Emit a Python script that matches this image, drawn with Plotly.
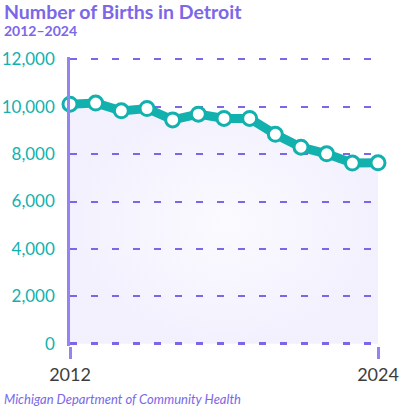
import plotly.graph_objects as go

years = list(range(2012, 2025))
births = [10100, 10150, 9820, 9920, 9440, 9680, 9500, 9500, 8830, 8290, 8010, 7620, 7630]
y_ticks = [0, 2000, 4000, 6000, 8000, 10000, 12000]
x_ticks = [2012, 2024]

TEAL = "#12b1ae"
PURPLE = "#7b67e8"
AXIS_PURPLE = "#9484f2"
Y_RANGE = [-90, 12090]

fig = go.Figure()
fig.add_trace(go.Scatter(
    x=years, y=births, mode="lines+markers",
    line=dict(color=TEAL, width=9),
    marker=dict(size=14, color="white", line=dict(color=TEAL, width=3)),
    fill="tozeroy",
    fillgradient=dict(type="radial",
                      colorscale=[[0, "rgba(120,95,240,0.03)"], [1, "rgba(120,95,240,0.09)"]]),
    cliponaxis=False, hoverinfo="skip", showlegend=False,
))
# invisible trace to activate secondary axis for the heavier zero line
fig.add_trace(go.Scatter(x=[years[0]], y=[0], yaxis="y2", mode="markers",
                         marker=dict(opacity=0), showlegend=False, hoverinfo="skip"))

fig.update_layout(
    width=401, height=409,
    margin=dict(l=70, r=23, t=57, b=63, autoexpand=False),
    paper_bgcolor="white", plot_bgcolor="white",
    font=dict(family="Lato", color="#3d3d3d"),
    xaxis=dict(range=[2012, 2024], tickvals=x_ticks, ticktext=[str(v) for v in x_ticks],
               showgrid=False, zeroline=False, showline=False, automargin=False,
               ticks="outside", ticklen=12, tickwidth=2.5, tickcolor=AXIS_PURPLE,
               tickfont=dict(size=18, color="#3d3d3d")),
    yaxis=dict(range=Y_RANGE, tickvals=y_ticks, ticktext=[f"{v:,}" for v in y_ticks],
               showgrid=True, gridcolor=PURPLE, gridwidth=1.5, griddash="7px,14px",
               zeroline=False, showline=True, linecolor=AXIS_PURPLE, linewidth=2.5,
               layer="above traces", automargin=False,
               ticks="outside", ticklen=9, tickcolor="rgba(0,0,0,0)",
               tickfont=dict(size=17, color=TEAL)),
    yaxis2=dict(overlaying="y", range=Y_RANGE, tickvals=[0], showticklabels=False,
                showgrid=True, gridcolor=PURPLE, gridwidth=3, griddash="7px,14px",
                zeroline=False, showline=False, automargin=False),
    annotations=[
        dict(text="<b>Number of Births in Detroit</b>", xref="paper", yref="paper",
             x=-0.22, y=1.158, xanchor="left", yanchor="middle", showarrow=False,
             font=dict(size=19.5, color=PURPLE, family="Lato")),
        dict(text="<b>2012–2024</b>", xref="paper", yref="paper",
             x=-0.22, y=1.093, xanchor="left", yanchor="middle", showarrow=False,
             font=dict(size=14, color=PURPLE, family="Lato")),
        dict(text="<i>Michigan Department of Community Health</i>", xref="paper", yref="paper",
             x=-0.22, y=-0.183, xanchor="left", yanchor="middle", showarrow=False,
             font=dict(size=13, color=PURPLE, family="Lato")),
    ],
)

fig.write_html("out.html", config={"displayModeBar": False},
               post_script="document.body.style.margin='0';document.body.style.padding='0';")
